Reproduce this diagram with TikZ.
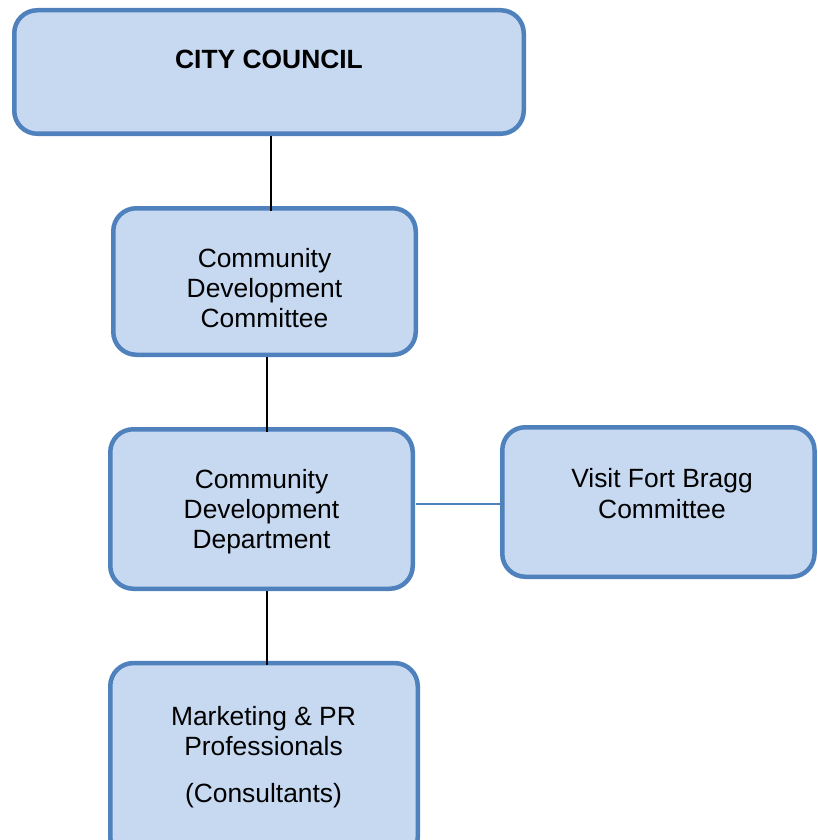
\documentclass[tikz,border=0pt]{standalone}
\usepackage{fontspec}
\setmainfont{Liberation Sans}
\definecolor{boxfill}{HTML}{C6D9F1}
\definecolor{boxline}{HTML}{4F81BD}
\begin{document}
\begin{tikzpicture}[x=1pt,y=-1pt,
  orgbox/.style={draw=boxline,fill=boxfill,line width=4.5pt,rounded corners=23pt,inner sep=0pt,outer sep=0pt},
  txt/.style={anchor=base,inner sep=0pt,font=\fontsize{26.4}{30}\selectfont},
  conn/.style={draw=black,line width=1.6pt},
  bconn/.style={draw=boxline,line width=1.6pt}]
\useasboundingbox (0,0) rectangle (817,840);
\clip (0,0) rectangle (817,840);
% boxes
\node[orgbox,minimum width=509.5pt,minimum height=123.5pt] (cc) at (269,72) {};
\node[orgbox,minimum width=302.5pt,minimum height=146.5pt] (cdc) at (264.5,281.5) {};
\node[orgbox,minimum width=302.5pt,minimum height=159.5pt] (cdd) at (261.5,509) {};
\node[orgbox,minimum width=312.25pt,minimum height=149.5pt] (vfb) at (658.4,502) {};
\node[orgbox,minimum width=307.5pt,minimum height=197pt] (mkt) at (264,761.6) {};
% connectors
\draw[conn] ([xshift=2pt,yshift=-2.25pt]cc.south) -- ([xshift=2pt,yshift=-2.25pt]cc.south |- cdc.north);
\draw[conn] ([xshift=2.5pt,yshift=-2.25pt]cdc.south) -- ([xshift=2.5pt,yshift=-2.25pt]cdc.south |- cdd.north);
\draw[conn] ([xshift=5.5pt,yshift=-2.25pt]cdd.south) -- ([xshift=5.5pt,yshift=-2.25pt]cdd.south |- mkt.north);
\draw[bconn] ([xshift=3pt,yshift=5pt]cdd.east) -- ([yshift=5pt]cdd.east -| vfb.west);
% texts
\node[txt,font=\fontsize{26.4}{30}\selectfont\bfseries] (cct) at (269,68.5) {CITY COUNCIL};
\node[txt] (cdc1) at (264.5,267) {Community};
\node[txt] (cdc2) at (264.5,297) {Development};
\node[txt] (cdc3) at (264.5,327) {Committee};
\node[txt] (cdd1) at (261.5,488.5) {Community};
\node[txt] (cdd2) at (261.5,518.5) {Development};
\node[txt] (cdd3) at (261.5,548.5) {Department};
\node[txt] (vfb1) at (662,487.5) {Visit Fort Bragg};
\node[txt] (vfb2) at (662,518) {Committee};
\node[txt] (mkt1) at (263.5,725) {Marketing \& PR};
\node[txt] (mkt2) at (263.5,755) {Professionals};
\node[txt] (mkt3) at (263.5,802) {(Consultants)};
\end{tikzpicture}
\end{document}
